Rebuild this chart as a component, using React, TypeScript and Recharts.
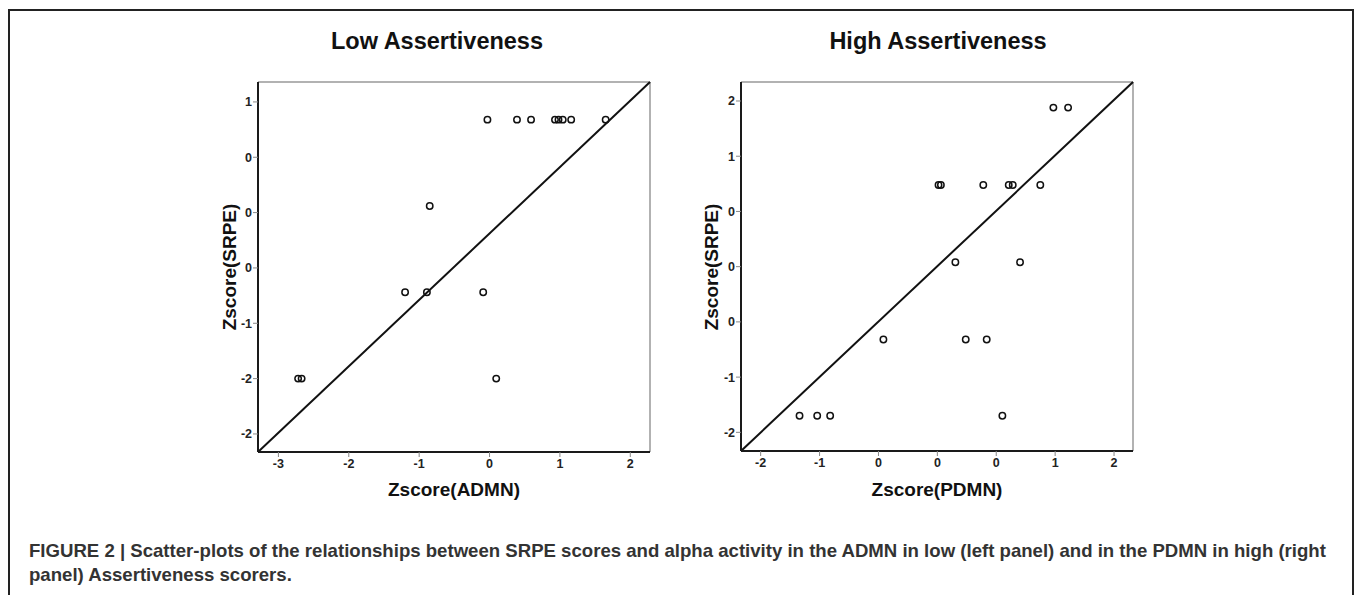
import React from 'react';
import { ScatterChart, Scatter, XAxis, YAxis, ReferenceLine } from 'recharts';

// Low Assertiveness panel
const lowX = [-0.03, 0.39, 0.59, 0.93, 0.98, 1.04, 1.16, 1.65, -0.85, -1.2, -0.89, -0.09, -2.72, -2.67, 0.095];
const lowY = [0.84, 0.84, 0.84, 0.84, 0.84, 0.84, 0.84, 0.84, 0.06, -0.72, -0.72, -0.72, -1.5, -1.5, -1.5];
const lowXTicks = [-3, -2, -1, 0, 1, 2];
const lowXTickLabels = ['-3', '-2', '-1', '0', '1', '2'];
const lowYTicks = [-2, -1.5, -1, -0.5, 0, 0.5, 1];
const lowYTickLabels = ['-2', '-2', '-1', '0', '0', '0', '1'];
const lowXDomain = [-3.29, 2.28];
const lowYDomain = [-2.163, 1.18];

// High Assertiveness panel
const highX = [0.985, 1.11, 0.01, 0.03, 0.39, 0.606, 0.64, 0.874, 0.153, 0.702, -0.458, 0.241, 0.419, -1.17, -1.02, -0.91, 0.552];
const highY = [1.44, 1.44, 0.74, 0.74, 0.74, 0.74, 0.74, 0.74, 0.04, 0.04, -0.66, -0.66, -0.66, -1.35, -1.35, -1.35, -1.35];
const highXTicks = [-1.5, -1, -0.5, 0, 0.5, 1, 1.5];
const highXTickLabels = ['-2', '-1', '0', '0', '0', '1', '2'];
const highYTicks = [-1.5, -1, -0.5, 0, 0.5, 1, 1.5];
const highYTickLabels = ['-2', '-1', '0', '0', '0', '1', '2'];
const highXDomain = [-1.667, 1.661];
const highYDomain = [-1.669, 1.672];

const FONT = '"Liberation Sans", Arial, sans-serif';

const circle = (props: any) => (
  <circle cx={props.cx} cy={props.cy} r={3.2} fill="none" stroke="#111" strokeWidth={1.5} />
);

const tickStyle = { fontSize: 12.5, fontWeight: 700, fill: '#222', fontFamily: FONT };

function Panel({ xs, ys, xTicks, xLabels, yTicks, yLabels, xDomain, yDomain, left, margin }: any) {
  const data = xs.map((x: number, i: number) => ({ x, y: ys[i] }));
  return (
    <div style={{ position: 'absolute', left, top: 60 }}>
      <ScatterChart width={470} height={460} margin={margin}>
        <XAxis
          type="number"
          dataKey="x"
          domain={xDomain}
          ticks={xTicks}
          allowDataOverflow
          height={30}
          tick={tickStyle}
          tickFormatter={(v: number) => xLabels[xTicks.indexOf(v)]}
          tickSize={5}
          tickMargin={2}
          tickLine={{ stroke: '#888', strokeWidth: 1 }}
          axisLine={{ stroke: '#1a1a1a', strokeWidth: 2 }}
        />
        <YAxis
          type="number"
          dataKey="y"
          domain={yDomain}
          ticks={yTicks}
          allowDataOverflow
          width={40}
          tick={tickStyle}
          tickFormatter={(v: number) => yLabels[yTicks.indexOf(v)]}
          tickSize={5}
          tickMargin={1}
          tickLine={{ stroke: '#888', strokeWidth: 1 }}
          axisLine={{ stroke: '#1a1a1a', strokeWidth: 2 }}
        />
        <ReferenceLine y={yDomain[1]} stroke="#999" strokeWidth={1.5} ifOverflow="visible" />
        <ReferenceLine x={xDomain[1]} stroke="#999" strokeWidth={1.5} ifOverflow="visible" />
        <ReferenceLine
          segment={[{ x: xDomain[0], y: yDomain[0] }, { x: xDomain[1], y: yDomain[1] }]}
          stroke="#111"
          strokeWidth={2}
          ifOverflow="visible"
        />
        <Scatter data={data} shape={circle} isAnimationActive={false} />
      </ScatterChart>
    </div>
  );
}

const titleStyle: React.CSSProperties = {
  position: 'absolute',
  width: 300,
  height: 26,
  lineHeight: '26px',
  textAlign: 'center',
  fontSize: 23.5,
  fontWeight: 700,
  color: '#111',
  fontFamily: FONT,
  whiteSpace: 'nowrap',
};

const axisTitle: React.CSSProperties = {
  position: 'absolute',
  width: 220,
  height: 24,
  lineHeight: '24px',
  textAlign: 'center',
  fontSize: 19,
  fontWeight: 700,
  color: '#111',
  fontFamily: FONT,
  whiteSpace: 'nowrap',
};

const captionStyle: React.CSSProperties = {
  position: 'absolute',
  left: 29,
  fontSize: 18.6,
  lineHeight: '24px',
  fontWeight: 700,
  color: '#333',
  fontFamily: FONT,
  whiteSpace: 'nowrap',
};

export default function App() {
  return (
    <div style={{ position: 'absolute', left: 0, top: 0, width: 1355, height: 595, overflow: 'hidden', background: '#fff' }}>
      <div style={{ position: 'absolute', left: 8, top: 9, width: 1346, height: 620, boxSizing: 'border-box', border: '2px solid #222' }} />
      <div style={{ ...titleStyle, left: 437 - 150, top: 28 }}>Low Assertiveness</div>
      <div style={{ ...titleStyle, left: 938 - 150, top: 28 }}>High Assertiveness</div>

      <Panel xs={lowX} ys={lowY} xTicks={lowXTicks} xLabels={lowXTickLabels} yTicks={lowYTicks} yLabels={lowYTickLabels}
        xDomain={lowXDomain} yDomain={lowYDomain} left={200} margin={{ top: 22, right: 20, bottom: 38, left: 18 }} />
      <Panel xs={highX} ys={highY} xTicks={highXTicks} xLabels={highXTickLabels} yTicks={highYTicks} yLabels={highYTickLabels}
        xDomain={highXDomain} yDomain={highYDomain} left={680} margin={{ top: 22, right: 17, bottom: 39, left: 21 }} />

      <div style={{ ...axisTitle, left: 454 - 110, top: 478 }}>Zscore(ADMN)</div>
      <div style={{ ...axisTitle, left: 937 - 110, top: 478 }}>Zscore(PDMN)</div>
      <div style={{ ...axisTitle, left: 230 - 110, top: 267 - 12, transform: 'rotate(-90deg)' }}>Zscore(SRPE)</div>
      <div style={{ ...axisTitle, left: 712 - 110, top: 267 - 12, transform: 'rotate(-90deg)' }}>Zscore(SRPE)</div>

      <div style={{ ...captionStyle, top: 539 }}>
        FIGURE 2 | Scatter-plots of the relationships between SRPE scores and alpha activity in the ADMN in low (left panel) and in the PDMN in high (right
      </div>
      <div style={{ ...captionStyle, top: 563 }}>panel) Assertiveness scorers.</div>
    </div>
  );
}
